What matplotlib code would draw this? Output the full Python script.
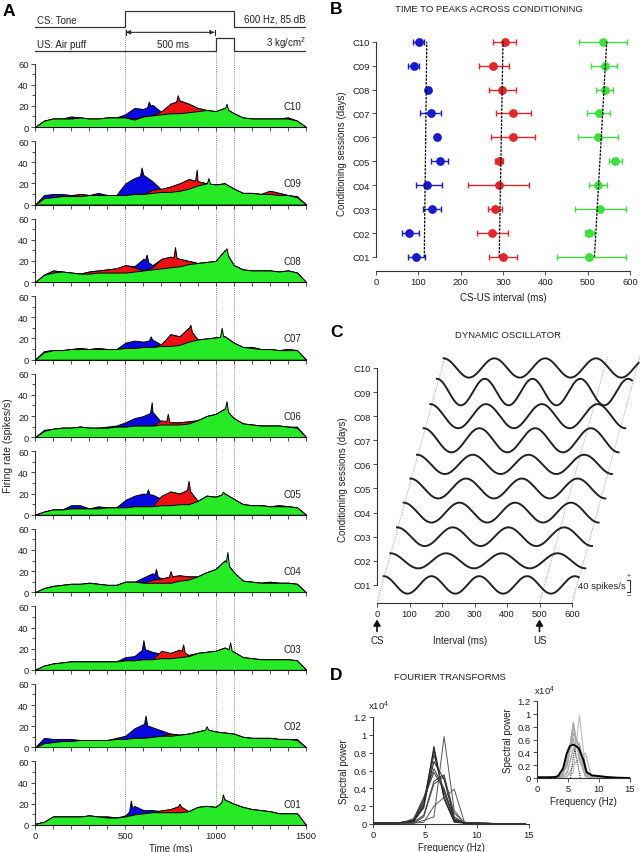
import numpy as np
import matplotlib
matplotlib.use('Agg')
import matplotlib.pyplot as plt
from matplotlib.lines import Line2D
from matplotlib import transforms
from matplotlib.ticker import FuncFormatter

plt.rcParams['font.family'] = ['Liberation Sans', 'DejaVu Sans']
plt.rcParams['mathtext.fontset'] = 'custom'
plt.rcParams['mathtext.rm'] = 'Liberation Sans'
plt.rcParams['font.size'] = 7

# ---------------- DATA ----------------
sessions = ['C01', 'C02', 'C03', 'C04', 'C05', 'C06', 'C07', 'C08', 'C09', 'C10']
time_ms = list(range(0, 1501, 50))

# Panel A: peri-stimulus firing rates (spikes/s); 0 in red/blue = component hidden behind green
C10_green = [0,6,8,8,8,9,8,8,9,9, 9,7,10,11,12,13,13,14,15,16, 15,18,13,9,8,8,8,8,8,6, 0]
C10_red   = [0,0,0,0,0,0,0,0,0,0, 0,8,0,0,15,22,25,22,18,0, 0,0,0,0,0,0,0,0,9,0, 0]
C10_blue  = [0,0,0,0,10,0,0,0,0,0, 12,18,17,21,14,0,0,0,0,0, 0,0,0,0,0,0,0,0,0,0, 0]
C09_green = [0,6,7,8,8,8,9,9,9,9, 9,10,10,11,12,12,13,15,18,20, 19,20,15,11,11,10,10,9,9,7, 0]
C09_red   = [0,0,0,0,0,10,0,0,0,0, 0,0,0,14,15,17,20,24,22,0, 0,0,0,0,0,0,13,11,0,0, 0]
C09_blue  = [0,9,10,10,9,0,0,11,0,0, 20,25,28,22,14,0,0,0,0,0, 0,0,0,0,0,0,0,0,0,8, 0]
C08_green = [0,7,9,10,9,8,8,9,9,9, 9,10,11,12,13,14,15,17,18,19, 20,30,16,12,11,11,11,10,11,9, 0]
C08_red   = [0,0,11,0,0,0,10,11,12,13, 16,14,0,14,22,24,22,20,0,0, 0,0,0,0,0,0,0,0,0,0, 0]
C08_blue  = [0,0,0,0,0,0,0,0,0,0, 0,15,22,16,0,0,0,0,0,0, 0,0,0,0,0,0,0,0,0,0, 0]
C07_green = [0,7,9,9,10,10,10,10,10,10, 11,11,12,12,13,13,14,17,19,20, 21,22,16,12,11,10,10,9,9,9, 0]
C07_red   = [0,8,0,0,0,11,0,11,0,0, 0,0,0,0,15,24,22,30,0,0, 0,0,0,0,12,0,0,0,10,0, 0]
C07_blue  = [0,0,0,0,0,0,0,0,0,0, 16,18,17,19,14,0,0,0,0,0, 0,0,0,0,0,0,0,0,0,0, 0]
C06_green = [0,6,8,9,9,10,9,9,9,10, 10,11,11,11,12,12,12,13,16,20, 22,27,18,13,12,11,11,11,10,9, 0]
C06_red   = [0,0,0,0,0,0,0,0,0,0, 0,0,0,0,16,14,14,15,0,0, 0,0,0,0,0,0,0,0,0,0, 0]
C06_blue  = [0,7,0,0,0,0,0,0,10,11, 14,18,20,24,14,0,0,0,0,0, 0,0,0,0,0,0,0,0,0,10, 0]
C05_green = [0,3,5,5,6,6,6,6,7,7, 7,8,8,8,9,9,10,10,13,18, 17,20,15,10,9,9,8,8,8,7, 0]
C05_red   = [0,0,0,0,0,0,0,0,0,0, 0,0,0,0,18,22,20,24,0,0, 0,0,0,0,0,9,0,9,0,0, 0]
C05_blue  = [0,0,0,0,9,9,0,8,0,0, 14,18,20,19,15,0,0,0,0,0, 0,0,0,0,0,0,0,0,0,0, 0]
C04_green = [0,4,6,7,8,8,9,8,7,7, 10,10,9,9,9,9,11,12,15,19, 22,30,19,11,10,9,9,9,9,8, 0]
C04_red   = [0,0,0,0,0,0,0,0,0,0, 0,0,0,12,13,15,16,15,0,0, 0,0,0,0,0,0,10,0,0,0, 0]
C04_blue  = [0,0,0,0,0,0,0,0,0,0, 0,0,14,18,0,0,0,0,0,0, 0,0,0,0,0,0,0,0,0,0, 0]
C03_green = [0,4,6,7,8,8,8,8,8,8, 9,9,10,10,11,11,12,13,16,17, 18,21,17,12,11,10,10,10,10,9, 0]
C03_red   = [0,0,0,0,8,0,0,0,0,0, 0,0,0,0,18,16,19,14,0,0, 0,0,0,0,0,0,0,0,0,0, 0]
C03_blue  = [0,0,0,0,0,0,0,0,0,0, 12,13,20,17,15,0,0,0,0,0, 0,0,0,0,0,0,0,0,0,0, 0]
C02_green = [0,4,5,6,6,7,7,7,7,8, 8,9,9,10,11,11,12,13,15,17, 15,14,13,10,9,9,9,8,8,7, 0]
C02_red   = [0,0,0,0,0,0,0,0,0,0, 0,0,0,0,0,13,12,0,0,0, 0,0,0,0,0,0,9,0,0,0, 0]
C02_blue  = [0,9,8,8,8,0,0,0,0,9, 11,18,22,19,16,0,0,0,0,0, 0,0,0,0,0,0,0,0,0,8, 0]
C01_green = [1,3,8,8,8,8,9,8,7,7, 8,10,11,12,12,12,12,13,17,18, 17,24,20,17,15,14,13,11,11,11, 0]
C01_red   = [0,0,0,0,0,0,0,0,8,0, 0,0,0,0,14,15,18,0,0,0, 0,0,0,0,0,0,0,0,0,0, 0]
C01_blue  = [0,0,0,0,0,0,0,0,0,0, 9,18,14,14,13,0,0,0,0,0, 0,0,0,0,0,0,0,0,0,0, 0]

# sharp peaks: (layer, time ms, rate spikes/s)
C10_peaks = [('blue', 630, 24), ('red', 790, 30), ('green', 1060, 22)]
C09_peaks = [('blue', 590, 35), ('red', 895, 33), ('green', 960, 25)]
C08_peaks = [('blue', 618, 26), ('red', 775, 33), ('green', 1060, 32)]
C07_peaks = [('blue', 640, 22), ('red', 860, 33), ('green', 1033, 30)]
C06_peaks = [('blue', 646, 33), ('red', 735, 22), ('green', 1060, 34)]
C05_peaks = [('blue', 625, 24), ('red', 850, 32), ('green', 1040, 22)]
C04_peaks = [('blue', 670, 22), ('red', 750, 20), ('green', 1065, 38)]
C03_peaks = [('blue', 600, 28), ('red', 820, 24), ('green', 1080, 26)]
C02_peaks = [('blue', 612, 30), ('green', 950, 20)]
C01_peaks = [('blue', 530, 23), ('red', 800, 20), ('green', 1040, 29)]

cs_on, cs_off = 500, 1100
us_on, us_off = 1000, 1100

# Panel B: time to peaks (ms), C01..C10
blue_peak = [95, 79, 132, 121, 150, 144, 129, 124, 89, 102]
blue_lo   = [76, 61, 110, 94, 130, 144, 105, 124, 76, 88]
blue_hi   = [115, 101, 154, 155, 169, 144, 153, 124, 102, 113]
red_peak  = [300, 275, 281, 291, 291, 324, 324, 298, 277, 304]
red_lo    = [268, 238, 265, 217, 280, 272, 283, 267, 244, 276]
red_hi    = [332, 312, 298, 362, 301, 376, 366, 330, 313, 331]
green_peak = [504, 504, 529, 524, 564, 524, 526, 540, 540, 536]
green_lo   = [427, 494, 470, 502, 550, 476, 498, 520, 509, 480]
green_hi   = [591, 515, 591, 545, 580, 571, 553, 561, 569, 594]
blue_trend  = [114, 120]
red_trend   = [291, 300]
green_trend = [516, 545]

# Panel C: dynamic oscillator per session (C01..C10)
osc_freq_hz = [6.8, 5.83, 5.83, 5.83, 5.83, 5.83, 5.83, 5.83, 6.8, 6.4]
osc_amp     = [29, 25, 31, 33, 33, 32, 40, 40, 44, 32]   # spikes/s
osc_phase   = [0, 0, 0, 0, 0, 0, 0, 0, 0, 0]

# Panel D: spectral power (x10^4) at frequency bins k*1000/1024 Hz, k=0..15
spec_C01 = [0.01,0.01,0.01,0.02,0.03,0.20,0.87,0.30,0.03,0.01,0.01,0.01,0.005,0.005,0.005,0.005]
spec_C02 = [0.01,0.01,0.01,0.02,0.04,0.25,0.83,0.28,0.02,0.01,0.01,0.005,0.005,0.005,0.005,0.005]
spec_C03 = [0.01,0.01,0.01,0.02,0.03,0.18,0.78,0.35,0.04,0.01,0.01,0.01,0.005,0.005,0.005,0.005]
spec_C04 = [0.01,0.01,0.01,0.02,0.06,0.30,0.62,0.40,0.05,0.01,0.01,0.005,0.005,0.005,0.005,0.005]
spec_C05 = [0.01,0.01,0.01,0.01,0.01,0.04,0.08,0.98,0.15,0.01,0.01,0.005,0.005,0.005,0.005,0.005]
spec_C06 = [0.01,0.01,0.01,0.01,0.02,0.10,0.48,0.55,0.08,0.01,0.01,0.01,0.005,0.005,0.005,0.005]
spec_C07 = [0.01,0.01,0.01,0.01,0.01,0.08,0.45,0.53,0.12,0.02,0.01,0.005,0.005,0.005,0.005,0.005]
spec_C08 = [0.01,0.01,0.01,0.01,0.01,0.02,0.20,0.30,0.39,0.02,0.01,0.005,0.005,0.005,0.005,0.005]
spec_C09 = [0.01,0.01,0.01,0.02,0.03,0.22,0.70,0.50,0.06,0.01,0.01,0.005,0.005,0.005,0.005,0.005]
spec_C10 = [0.01,0.01,0.01,0.02,0.05,0.28,0.58,0.38,0.05,0.01,0.01,0.005,0.005,0.005,0.005,0.005]
mean_freq  = [0, 1, 2, 3, 3.4, 4.2, 4.8, 5.3, 5.9, 6.7, 7.5, 8.0, 8.9, 10, 11.3, 13, 15]
mean_power = [0.01,0.01,0.01,0.015,0.03,0.15,0.38,0.50,0.52,0.47,0.28,0.09,0.04,0.03,0.015,0.005,0.0]
dot_freq  = [5.4, 5.8, 6.1, 6.5, 7.0]
dot_power = [0.0, 0.30, 0.45, 0.25, 0.0]

# ---------------- FIGURE ----------------
W, H = 640, 853
fig = plt.figure(figsize=(W / 100, H / 100), dpi=100)

def ax_px(x0, y0, x1, y1):
    return fig.add_axes([x0 / W, 1 - y1 / H, (x1 - x0) / W, (y1 - y0) / H])

AX_COL = '#333333'
GREEN, RED, BLUE = '#26ea26', '#ee1111', '#0808e0'

def style_ax(ax, left=True, bottom=True):
    for s in ['top', 'right']:
        ax.spines[s].set_visible(False)
    ax.spines['left'].set_visible(left)
    ax.spines['bottom'].set_visible(bottom)
    for s in ['left', 'bottom']:
        ax.spines[s].set_linewidth(0.8)
        ax.spines[s].set_color(AX_COL)
    ax.tick_params(length=3, width=0.6, color=AX_COL, labelsize=6.8,
                   labelcolor='#222222', pad=1.5)

# ---- header with stimulus traces
axh = ax_px(35, 0, 306, 60)
axh.set_xlim(0, 1500)
axh.set_ylim(60, 0)
axh.axis('off')
axh.plot([0, cs_on, cs_on, cs_off, cs_off, 1500], [27.7, 27.7, 11.7, 11.7, 27.7, 27.7],
         color='#333333', lw=0.9)
axh.plot([0, us_on, us_on, us_off, us_off, 1500], [51.7, 51.7, 39.3, 39.3, 51.7, 51.7],
         color='#333333', lw=0.9)
axh.text(10, 21, 'CS: Tone', va='center', ha='left', fontsize=7, color='#222222')
axh.text(1500, 19.5, '600 Hz, 85 dB', va='center', ha='right', fontsize=7, color='#222222')
axh.text(10, 44.5, 'US: Air puff', va='center', ha='left', fontsize=7, color='#222222')
axh.text(1500, 43.5, '3 kg/cm$^2$', va='center', ha='right', fontsize=7, color='#222222')
axh.text(765, 44.5, '500 ms', va='center', ha='center', fontsize=7, color='#222222')
axh.annotate('', xy=(992, 33.3), xytext=(506, 33.3),
             arrowprops=dict(arrowstyle='-|>,head_length=0.35,head_width=0.18', lw=0.6,
                             ls=(0, (1.5, 1.5)), color='#222222', shrinkA=0, shrinkB=0))
axh.annotate('', xy=(506, 33.3), xytext=(992, 33.3),
             arrowprops=dict(arrowstyle='-|>,head_length=0.35,head_width=0.18', lw=0.6,
                             color='#222222', shrinkA=0, shrinkB=0, ls='-'))
axh.plot([503, 503], [31, 35.6], color='#222222', lw=0.8)
axh.plot([995, 995], [31, 35.6], color='#222222', lw=0.8)

# ---- Panel A histograms
series = {
    'C10': (C10_green, C10_red, C10_blue, C10_peaks), 'C09': (C09_green, C09_red, C09_blue, C09_peaks),
    'C08': (C08_green, C08_red, C08_blue, C08_peaks), 'C07': (C07_green, C07_red, C07_blue, C07_peaks),
    'C06': (C06_green, C06_red, C06_blue, C06_peaks), 'C05': (C05_green, C05_red, C05_blue, C05_peaks),
    'C04': (C04_green, C04_red, C04_blue, C04_peaks), 'C03': (C03_green, C03_red, C03_blue, C03_peaks),
    'C02': (C02_green, C02_red, C02_blue, C02_peaks), 'C01': (C01_green, C01_red, C01_blue, C01_peaks),
}
t = np.array(time_ms, float)
hist_axes = []
for i, s in enumerate(sessions[::-1]):
    y0 = 128 + 77.55 * i
    ax = ax_px(35, y0 - 63.5, 306, y0)
    ax.patch.set_visible(False)
    gl, rl, bl, peaks = series[s]
    g, r, b = (np.array(v, float) for v in (gl, rl, bl))
    r = np.where(r > 0, r, g)
    b = np.where(b > 0, b, np.maximum(r, g))
    # finer rendering grid so that sharp peaks can be drawn
    extra = []
    for _, pt, _ in peaks:
        extra += [pt - 9, pt, pt + 9]
    tf = np.union1d(t, extra)
    layers = {'green': np.interp(tf, t, g), 'red': np.interp(tf, t, r),
              'blue': np.interp(tf, t, b)}
    for lay, pt, pv in peaks:
        layers[lay][np.searchsorted(tf, pt)] = pv
    ax.fill_between(tf, 0, layers['blue'], facecolor=BLUE, edgecolor='black', lw=0.7, zorder=2)
    ax.fill_between(tf, 0, layers['red'], facecolor=RED, edgecolor='black', lw=0.7, zorder=3)
    ax.fill_between(tf, 0, layers['green'], facecolor=GREEN, edgecolor='black', lw=0.7, zorder=4)
    ax.set_xlim(0, 1500)
    ax.set_ylim(0, 60)
    style_ax(ax)
    ax.set_yticks([0, 20, 40, 60])
    ax.set_yticks([10, 30, 50], minor=True)
    ax.tick_params(which='minor', length=2, width=0.6, color=AX_COL)
    ax.set_xticks(np.arange(0, 1501, 100))
    if s == 'C01':
        ax.set_xticklabels([str(v) if v % 500 == 0 else '' for v in range(0, 1501, 100)])
        ax.set_xlabel('Time (ms)', fontsize=7, labelpad=2, color='#222222')
    else:
        ax.set_xticklabels([])
    ax.text(1475, 20, s, ha='right', va='center', fontsize=7, color='#222222')
    hist_axes.append(ax)

# dotted guide lines through panel A
blend = transforms.blended_transform_factory(hist_axes[0].transData, fig.transFigure)
for tv, ytop in [(cs_on, 30), (us_on, 53), (us_off, 53)]:
    fig.add_artist(Line2D([tv, tv], [1 - ytop / H, 1 - 826 / H], transform=blend,
                          color='#666666', lw=0.6, ls=(0, (1, 1.5)), zorder=-1))

fig.text(8 / W, 1 - 446 / H, 'Firing rate (spikes/s)', rotation=90, ha='center', va='center',
         fontsize=7.5, color='#222222')
fig.text(3 / W, 1 - 11 / H, 'A', fontsize=12.5, fontweight='bold', va='center', ha='left')

# ---- Panel B
yB = np.arange(1, 11)
axB = ax_px(376, 35.8, 630, 272)
for pk, lo, hi, col in [(blue_peak, blue_lo, blue_hi, '#1a1acd'),
                        (red_peak, red_lo, red_hi, '#e3262a'),
                        (green_peak, green_lo, green_hi, '#3ee03e')]:
    pk, lo, hi = map(np.array, (pk, lo, hi))
    axB.errorbar(pk, yB, xerr=[pk - lo, hi - pk], fmt='o', color=col, ms=5.3,
                 elinewidth=1.0, capsize=2.5, capthick=1.0, zorder=3)
for tr in [blue_trend, red_trend, green_trend]:
    axB.plot(tr, [1, 10], color='black', lw=0.9, ls=(0, (2, 1)), zorder=4)
axB.set_xlim(0, 600)
axB.set_ylim(0.414, 10.29)
style_ax(axB)
axB.spines['left'].set_bounds(1, 10)
axB.set_yticks(yB)
axB.set_yticklabels(sessions)
axB.set_xticks(np.arange(0, 601, 100))
axB.set_xlabel('CS-US interval (ms)', fontsize=7, labelpad=4, color='#222222')
axB.set_ylabel('Conditioning sessions (days)', fontsize=7, labelpad=4, color='#222222')
fig.text(489 / W, 1 - 9 / H, 'TIME TO PEAKS ACROSS CONDITIONING', ha='center', va='center',
         fontsize=6.8, color='#222222')
fig.text(330 / W, 1 - 9 / H, 'B', fontsize=12.5, fontweight='bold', va='center', ha='left')

# ---- Panel C
shear = 20.5          # ms per session row
unit = 80.0           # spikes/s per session row
axC = ax_px(377, 354.5, 640, 604)
axC.set_xlim(0, (640 - 377) / 0.325)
axC.set_ylim(0.25, 10.6)
style_ax(axC)
axC.spines['left'].set_bounds(1, 10)
axC.spines['bottom'].set_bounds(0, 600)
tt = np.linspace(0, 600, 600)
for k in range(10):
    yc = k + 1
    wave = osc_amp[k] * np.cos(2 * np.pi * osc_freq_hz[k] * tt / 1000 + osc_phase[k])
    axC.plot(tt + shear * yc, yc + wave / unit, color='#222222', lw=1.4, zorder=3)
for base in [0, 500, 600]:
    axC.plot([base, base + shear * (10.45 - 0.25)], [0.25, 10.45], color='#888888',
             lw=0.6, ls=(0, (1, 1.5)), zorder=1)
axC.set_yticks(yB)
axC.set_yticklabels(sessions)
axC.set_xticks(np.arange(0, 601, 100))
axC.set_ylabel('Conditioning sessions (days)', fontsize=7, labelpad=4, color='#222222')
# scale bar
sb_x = 778
axC.plot([sb_x - 8, sb_x, sb_x, sb_x - 8], [1.22, 1.22, 0.72, 0.72], color='#333333', lw=0.8,
         clip_on=False)
axC.text(sb_x - 12, 0.99, '40 spikes/s', ha='right', va='center', fontsize=6.8, color='#222222')
axC.text(sb_x - 2, 1.38, '+', ha='center', va='center', fontsize=5, color='#333333')
axC.text(sb_x - 2, 0.56, '\u2212', ha='center', va='center', fontsize=5, color='#333333')
blendC = transforms.blended_transform_factory(axC.transData, fig.transFigure)
for xv, lab in [(0, 'CS'), (500, 'US')]:
    axC.annotate('', xy=(xv, 1 - 620.5 / H), xycoords=blendC,
                 xytext=(xv, 1 - 632.5 / H), textcoords=blendC,
                 arrowprops=dict(arrowstyle='-|>,head_length=0.5,head_width=0.3', lw=1.2,
                                 color='#111111', shrinkA=0, shrinkB=0))
    axC.text(xv, 1 - 641 / H, lab, transform=blendC, ha='center', va='center', fontsize=7,
             color='#222222')
axC.text(255, 1 - 641 / H, 'Interval (ms)', transform=blendC, ha='center', va='center',
         fontsize=7, color='#222222')
fig.text(508 / W, 1 - 336 / H, 'DYNAMIC OSCILLATOR', ha='center', va='center', fontsize=6.8,
         color='#222222')
fig.text(330 / W, 1 - 333 / H, 'C', fontsize=12.5, fontweight='bold', va='center', ha='left')

# ---- Panel D
freq_bins = np.arange(16) * 1000 / 1024
spectra = [spec_C01, spec_C02, spec_C03, spec_C04, spec_C05,
           spec_C06, spec_C07, spec_C08, spec_C09, spec_C10]
dark_cols = ['#111111', '#222222', '#333333', '#444444', '#555555',
             '#333333', '#444444', '#555555', '#222222', '#333333']
gray_cols = ['#999999', '#aaaaaa', '#b5b5b5', '#a0a0a0', '#bbbbbb',
             '#c0c0c0', '#a8a8a8', '#b0b0b0', '#9a9a9a', '#b8b8b8']

def style_D(ax):
    ax.set_xlim(0, 15)
    ax.set_ylim(0, 1.2)
    style_ax(ax)
    ax.set_xticks([0, 5, 10, 15])
    ax.set_yticks(np.arange(0, 1.21, 0.2))
    ax.yaxis.set_major_formatter(FuncFormatter(lambda v, p: f'{v:g}'))
    ax.set_xlabel('Frequency (Hz)', fontsize=7, labelpad=2, color='#222222')
    ax.set_ylabel('Spectral power', fontsize=7, labelpad=3, color='#222222')
    ax.text(-0.03, 1.05, 'x10$^4$', transform=ax.transAxes, ha='left', va='bottom',
            fontsize=6.8, color='#222222')

axD1 = ax_px(373, 718, 529, 825)
for sp, c in zip(spectra, dark_cols):
    axD1.plot(freq_bins, sp, color=c, lw=0.7)
style_D(axD1)

axD2 = ax_px(537, 702, 630, 779)
for sp, c in zip(spectra, gray_cols):
    axD2.plot(freq_bins, sp, color=c, lw=0.8)
axD2.plot(dot_freq, dot_power, color='#333333', lw=0.8, ls=(0, (1, 1)))
axD2.plot(mean_freq, mean_power, color='black', lw=1.4)
style_D(axD2)

fig.text(450 / W, 1 - 678 / H, 'FOURIER TRANSFORMS', ha='center', va='center', fontsize=6.8,
         color='#222222')
fig.text(330 / W, 1 - 676 / H, 'D', fontsize=12.5, fontweight='bold', va='center', ha='left')

fig.savefig('out.png', dpi=100)
